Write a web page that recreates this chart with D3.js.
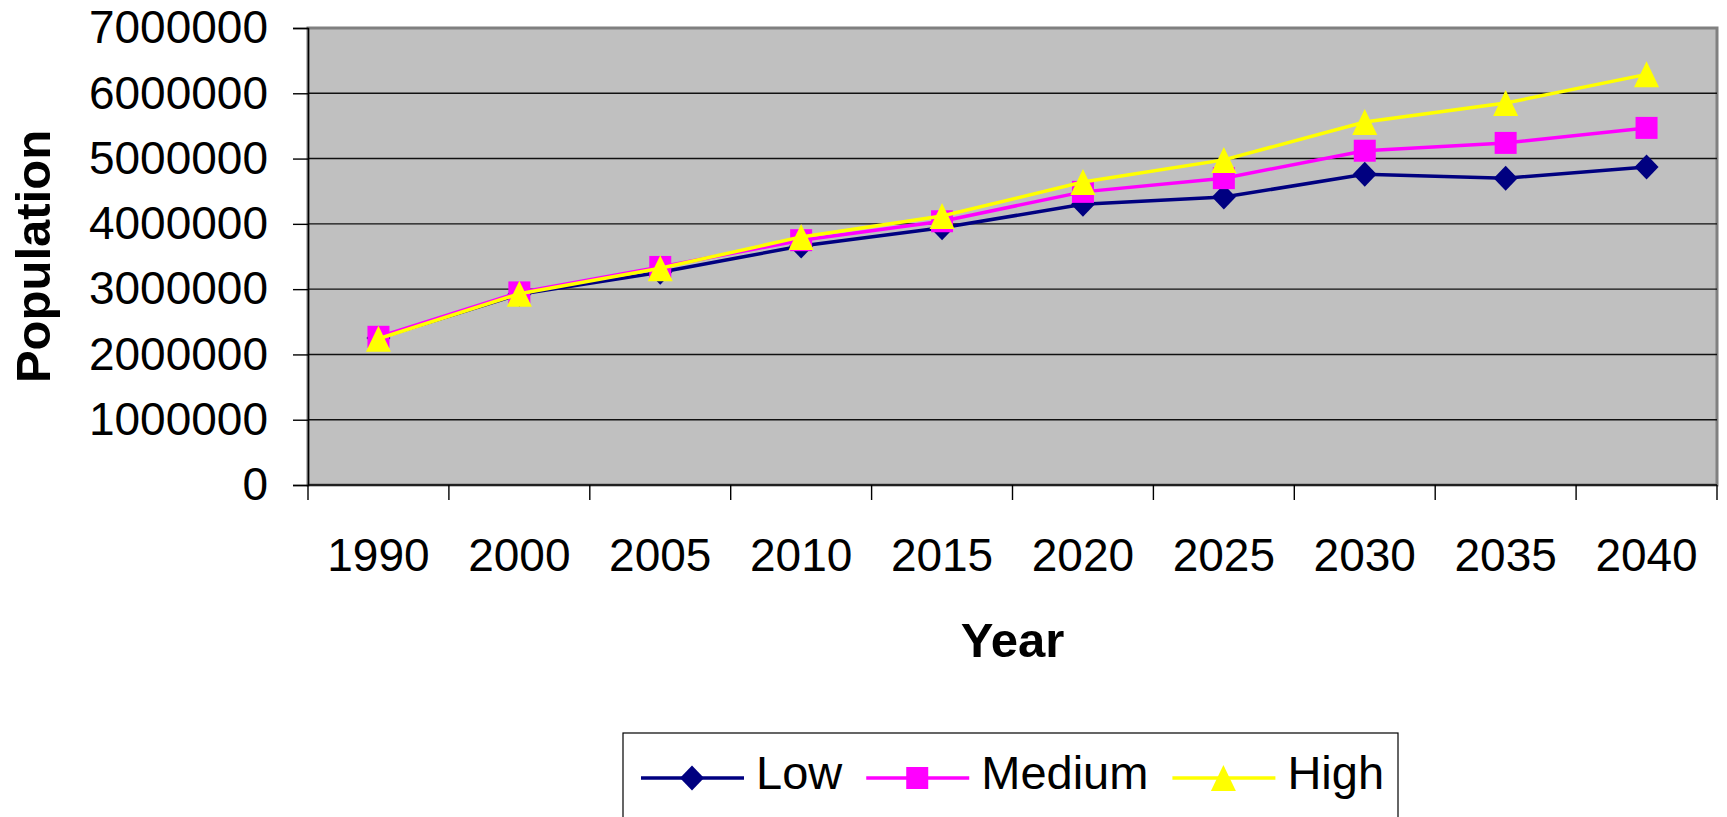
<!DOCTYPE html>
<html>
<head>
<meta charset="utf-8">
<script src="https://cdn.jsdelivr.net/npm/d3@7"></script>
<style>
  body { margin: 0; background: #fff; }
  svg { display: block; font-family: "Liberation Sans", Arial, sans-serif; }
</style>
</head>
<body>
<svg id="chart"></svg>
<script>
// data
const years = ["1990", "2000", "2005", "2010", "2015", "2020", "2025", "2030", "2035", "2040"];
const low = [2250000, 2920000, 3260000, 3660000, 3940000, 4300000, 4410000, 4760000, 4700000, 4870000];
const medium = [2270000, 2950000, 3340000, 3750000, 4040000, 4490000, 4700000, 5120000, 5240000, 5470000];
const high = [2240000, 2930000, 3320000, 3800000, 4120000, 4640000, 4980000, 5560000, 5850000, 6290000];
const yTicks = [0, 1000000, 2000000, 3000000, 4000000, 5000000, 6000000, 7000000];
const seriesNames = ["Low", "Medium", "High"];

const width = 1727;
const height = 817;

const svg = d3.select("#chart")
  .attr("width", width)
  .attr("height", height);

const margin = { top: 28, right: 10, bottom: 332, left: 308 };
const innerWidth = width - margin.left - margin.right;
const innerHeight = height - margin.top - margin.bottom;

// custom marker shapes (Excel style)
const diamond = {
  draw(ctx, size) {
    const w = Math.sqrt(size) / 2;
    ctx.moveTo(0, -w * 1.04); ctx.lineTo(w, 0); ctx.lineTo(0, w * 1.04); ctx.lineTo(-w, 0); ctx.closePath();
  }
};
const square = {
  draw(ctx, size) {
    const w = Math.sqrt(size) / 2;
    ctx.rect(-w, -w, 2 * w, 2 * w);
  }
};
const triangle = {
  draw(ctx, size) {
    const w = Math.sqrt(size) / 2;
    ctx.moveTo(0, -w * 1.04); ctx.lineTo(w, w * 1.04); ctx.lineTo(-w, w * 1.04); ctx.closePath();
  }
};

const series = [
  { name: seriesNames[0], values: low, color: "#000080", shape: diamond, size: 24 * 24 },
  { name: seriesNames[1], values: medium, color: "#FF00FF", shape: square, size: 22 * 22 },
  { name: seriesNames[2], values: high, color: "#FFFF00", shape: triangle, size: 25 * 25 }
];

const x = d3.scaleBand().domain(years).range([0, innerWidth]).padding(0);
const y = d3.scaleLinear().domain([0, 7000000]).range([innerHeight, 0]);

const g = svg.append("g").attr("transform", `translate(${margin.left},${margin.top})`);

// plot area
g.append("rect")
  .attr("width", innerWidth)
  .attr("height", innerHeight)
  .attr("fill", "#C0C0C0")
  .attr("stroke", "#808080")
  .attr("stroke-width", 3);

// gridlines
g.append("g")
  .selectAll("line")
  .data(yTicks.slice(1, -1))
  .enter()
  .append("line")
  .attr("x1", 0)
  .attr("x2", innerWidth)
  .attr("y1", d => y(d))
  .attr("y2", d => y(d))
  .attr("stroke", "#111")
  .attr("stroke-width", 1.4);

// y axis
const yAxisG = g.append("g")
  .call(d3.axisLeft(y).tickValues(yTicks).tickFormat(d3.format("d")).tickSize(15).tickPadding(25));
yAxisG.select(".domain").attr("stroke", "#000").attr("stroke-width", 1.5);
yAxisG.selectAll(".tick line").attr("stroke", "#000").attr("stroke-width", 1.4);
yAxisG.selectAll("text")
  .attr("font-size", 46)
  .attr("font-family", "Liberation Sans, Arial, sans-serif")
  .attr("fill", "#000");

// x axis: ticks on category boundaries, labels in the middle
const xAxisG = g.append("g").attr("transform", `translate(0,${innerHeight})`);
xAxisG.append("line")
  .attr("x1", 0).attr("x2", innerWidth)
  .attr("stroke", "#000").attr("stroke-width", 1.5);
xAxisG.selectAll(".xtick")
  .data(years.concat(["end"]))
  .enter()
  .append("line")
  .attr("class", "xtick")
  .attr("x1", d => d === "end" ? innerWidth : x(d))
  .attr("x2", d => d === "end" ? innerWidth : x(d))
  .attr("y1", 0)
  .attr("y2", 15)
  .attr("stroke", "#000")
  .attr("stroke-width", 1.4);
xAxisG.selectAll(".xlabel")
  .data(years)
  .enter()
  .append("text")
  .attr("class", "xlabel")
  .attr("x", d => x(d) + x.bandwidth() / 2)
  .attr("y", 86)
  .attr("text-anchor", "middle")
  .attr("font-size", 46)
  .text(d => d);

// axis titles
svg.append("text")
  .attr("transform", `translate(50,${margin.top + innerHeight / 2}) rotate(-90)`)
  .attr("text-anchor", "middle")
  .attr("font-size", 49)
  .attr("font-weight", "bold")
  .text("Population");

svg.append("text")
  .attr("x", margin.left + innerWidth / 2)
  .attr("y", 657)
  .attr("text-anchor", "middle")
  .attr("font-size", 49)
  .attr("font-weight", "bold")
  .text("Year");

// lines and markers
const line = d3.line()
  .x((d, i) => x(years[i]) + x.bandwidth() / 2)
  .y(d => y(d));

series.forEach(s => {
  const sg = g.append("g");
  sg.append("path")
    .datum(s.values)
    .attr("d", line)
    .attr("fill", "none")
    .attr("stroke", s.color)
    .attr("stroke-width", 3.5);
  sg.selectAll("path.marker")
    .data(s.values)
    .enter()
    .append("path")
    .attr("class", "marker")
    .attr("d", d3.symbol().type(s.shape).size(s.size))
    .attr("transform", (d, i) => `translate(${x(years[i]) + x.bandwidth() / 2},${y(d)})`)
    .attr("fill", s.color);
});

// legend, box runs off the bottom edge like in the original
const legend = svg.append("g");
legend.append("rect")
  .attr("x", 623)
  .attr("y", 733)
  .attr("width", 775)
  .attr("height", 120)
  .attr("fill", "#fff")
  .attr("stroke", "#000")
  .attr("stroke-width", 1.2);

let lx = 641;
const ly = 778;
series.forEach(s => {
  const item = legend.append("g");
  item.append("line")
    .attr("x1", lx).attr("x2", lx + 103)
    .attr("y1", ly).attr("y2", ly)
    .attr("stroke", s.color)
    .attr("stroke-width", 3.5);
  item.append("path")
    .attr("d", d3.symbol().type(s.shape).size(s.size))
    .attr("transform", `translate(${lx + 51},${ly})`)
    .attr("fill", s.color);
  const tx = lx + 115;
  const t = item.append("text")
    .attr("x", tx)
    .attr("y", 789)
    .attr("font-size", 47)
    .text(s.name);
  lx = tx + t.node().getComputedTextLength() + 24;
});
</script>
</body>
</html>
